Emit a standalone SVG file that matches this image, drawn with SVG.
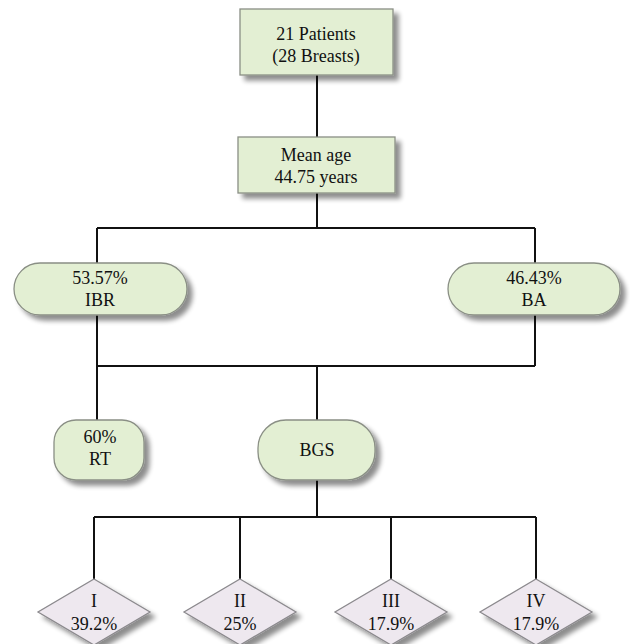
<svg xmlns="http://www.w3.org/2000/svg" width="630" height="644" viewBox="0 0 630 644">
<defs>
<filter id="sh" x="-20%" y="-20%" width="150%" height="160%">
<feGaussianBlur in="SourceAlpha" stdDeviation="2.5"/>
<feOffset dx="5" dy="5" result="b"/>
<feComponentTransfer><feFuncA type="linear" slope="0.45"/></feComponentTransfer>
<feMerge><feMergeNode/><feMergeNode in="SourceGraphic"/></feMerge>
</filter>
<style>
.g{fill:#e3efd3;stroke:#8a8f85;stroke-width:1.3;filter:url(#sh)}
.d{fill:#eee8ef;stroke:#8c8a8e;stroke-width:1.3;filter:url(#sh)}
.t{font-family:"Liberation Serif","Times New Roman",serif;font-size:18px;fill:#111;text-anchor:middle}
.c{stroke:#111;stroke-width:2;fill:none}
</style>
</defs>
<rect width="630" height="644" fill="#fff"/>
<g id="connectors">
<path class="c" d="M317 75V137M317 193V228M97 228H535M97 228V263M535 228V263M97 315V366M535 315V366M97 366H535M97 366V420M317 366V420M317 480V517M94 517H536M94 517V580M240 517V580M391 517V580M536 517V580"/>
</g>
<g id="patients"><rect class="g" x="240" y="9" width="153" height="66"/><text class="t" x="316" y="40">21 Patients</text><text class="t" x="316" y="62">(28 Breasts)</text></g>
<g id="age"><rect class="g" x="238" y="137" width="157" height="56"/><text class="t" x="316" y="161">Mean age</text><text class="t" x="316" y="183">44.75 years</text></g>
<g id="ibr"><rect class="g" x="14" y="263" width="173" height="52" rx="26"/><text class="t" x="100" y="284">53.57%</text><text class="t" x="100" y="306">IBR</text></g>
<g id="ba"><rect class="g" x="448" y="263" width="172" height="52" rx="26"/><text class="t" x="534" y="284">46.43%</text><text class="t" x="534" y="306">BA</text></g>
<g id="rt"><rect class="g" x="54" y="420" width="90" height="60" rx="22"/><text class="t" x="100" y="443">60%</text><text class="t" x="100" y="465">RT</text></g>
<g id="bgs"><rect class="g" x="258" y="420" width="117" height="60" rx="28"/><text class="t" x="317" y="456">BGS</text></g>
<g id="s1"><polygon class="d" points="94,579 150,612 94,645 38,612"/><text class="t" x="94" y="607">I</text><text class="t" x="94" y="630">39.2%</text></g>
<g id="s2"><polygon class="d" points="240,579 296,612 240,645 184,612"/><text class="t" x="240" y="607">II</text><text class="t" x="240" y="630">25%</text></g>
<g id="s3"><polygon class="d" points="391,579 447,612 391,645 335,612"/><text class="t" x="391" y="607">III</text><text class="t" x="391" y="630">17.9%</text></g>
<g id="s4"><polygon class="d" points="536,579 592,612 536,645 480,612"/><text class="t" x="536" y="607">IV</text><text class="t" x="536" y="630">17.9%</text></g>
</svg>
